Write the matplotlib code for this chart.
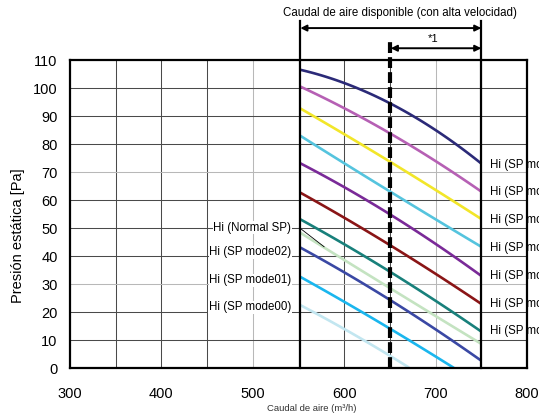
import matplotlib
matplotlib.use("Agg")
import matplotlib.pyplot as plt
import numpy as np

plt.rcParams['font.family'] = ['Liberation Sans', 'DejaVu Sans']

# Data
curves = [
    ("#2b2a78", [552, 600, 650, 700, 750], [106.5, 101.8, 94.5, 85.0, 73.0]),
    ("#b660b4", [552, 600, 650, 700, 750], [100.5, 92.8, 83.8, 73.9, 63.0]),
    ("#f2e629", [552, 600, 650, 700, 750], [92.7, 83.5, 73.7, 63.6, 53.2]),
    ("#55c4de", [552, 600, 650, 700, 750], [82.9, 73.2, 63.0, 53.1, 43.3]),
    ("#7a2a98", [552, 600, 650, 700, 750], [73.1, 64.6, 54.9, 44.3, 32.9]),
    ("#8a1516", [552, 600, 650, 700, 750], [62.6, 53.7, 43.9, 33.6, 22.9]),
    ("#18807b", [552, 600, 650, 700, 750], [53.1, 44.2, 34.4, 24.0, 13.0]),
    ("#c4e3c1", [552, 600, 650, 700, 750], [48.3, 38.6, 28.5, 18.6, 8.6]),
    ("#3a48a4", [552, 600, 650, 700, 750], [43.0, 34.2, 24.3, 13.8, 2.6]),
    ("#1ab6ee", [552, 600, 650, 700, 720], [32.6, 23.5, 14.2, 4.1, 0.0]),
    ("#c2e6f0", [552, 600, 650, 671], [22.5, 13.8, 4.6, 0.0]),
]
right_labels = ["Hi (SP mode09)", "Hi (SP mode08)", "Hi (SP mode07)", "Hi (SP mode06)",
                "Hi (SP mode05)", "Hi (SP mode04)", "Hi (SP mode03)"]
right_label_y = [72.5, 62.8, 52.9, 42.9, 32.9, 22.9, 13.2]
left_labels = ["Hi (Normal SP)", "Hi (SP mode02)", "Hi (SP mode01)", "Hi (SP mode00)"]
left_label_y = [50.1, 41.4, 31.4, 21.7]
xticks = [300, 400, 500, 600, 700, 800]
yticks = list(range(0, 111, 10))
x_min_flow, x_max_flow, x_ref = 552, 750, 650

fig = plt.figure(figsize=(5.39, 4.19), dpi=100)
ax = fig.add_axes([70/539, 1-368/419, (527-70)/539, (368-60)/419])
ax.set_xlim(300, 800)
ax.set_ylim(0, 110)

# grid
light_v = [500, 700]
for gx in range(350, 800, 50):
    c = "#b8b8b8" if gx in light_v else "#4a4a4a"
    ax.axvline(gx, color=c, lw=0.75, zorder=1)
light_h = [30, 70]
for gy in range(10, 110, 10):
    c = "#b8b8b8" if gy in light_h else "#4a4a4a"
    ax.axhline(gy, color=c, lw=0.75, zorder=1)

# curves: smooth rendering through the read points
for color, xs, ys in curves:
    coef = np.polyfit(xs, ys, 2)
    xx = np.linspace(xs[0], xs[-1], 100)
    ax.plot(xx, np.polyval(coef, xx), color=color, lw=1.9, zorder=3,
            solid_capstyle='butt')

ax.set_xticks(xticks)
ax.set_yticks(yticks)
ax.tick_params(axis='both', length=0, labelsize=10.5)
ax.tick_params(axis='x', pad=14)
ax.tick_params(axis='y', pad=9)
for s in ax.spines.values():
    s.set_linewidth(1.6)
    s.set_color("black")
    s.set_zorder(4)

# vertical limit lines
ax.plot([x_min_flow, x_min_flow], [0, 124], color="black", lw=1.6, clip_on=False, zorder=5)
ax.plot([x_max_flow, x_max_flow], [0, 124], color="black", lw=1.6, clip_on=False, zorder=5)
ax.plot([x_ref, x_ref], [0, 117], color="black", lw=3.0, ls=(0, (2.6, 1.0)),
        clip_on=False, zorder=5)

ax.annotate("", xy=(x_min_flow, 121.4), xytext=(x_max_flow, 121.4),
            arrowprops=dict(arrowstyle="<|-|>", color="black", lw=1.4,
                            mutation_scale=9, shrinkA=0, shrinkB=0),
            annotation_clip=False)
ax.annotate("", xy=(x_ref + 1, 114.2), xytext=(x_max_flow, 114.2),
            arrowprops=dict(arrowstyle="<|-|>", color="black", lw=1.4,
                            mutation_scale=9, shrinkA=0, shrinkB=0),
            annotation_clip=False)
ax.text(697, 117.6, "*1", fontsize=8, ha="center", va="center", clip_on=False)
fig.text(400/539, 1-13/419, "Caudal de aire disponible (con alta velocidad)",
         fontsize=8.3, ha="center", va="center")

for lab, ly in zip(right_labels, right_label_y):
    ax.text(760, ly, lab, fontsize=8.3, ha="left", va="center", zorder=2, clip_on=False)
for lab, ly in zip(left_labels, left_label_y):
    ax.text(542, ly, lab, fontsize=8.3, ha="right", va="center", zorder=6,
            bbox=dict(facecolor="white", edgecolor="none", pad=0.3))

# leader line for Normal SP
ax.plot([551, 578], [50.1, 43.3], color="black", lw=0.6, zorder=6)

fig.text(18/539, 1-236/419, "Presión estática [Pa]", fontsize=10.5,
         rotation=90, ha="center", va="center")
fig.text(312/539, 1-408/419, "Caudal de aire (m³/h)", fontsize=6.8,
         ha="center", va="center", color="#333333", stretch="condensed")

fig.savefig("out.png", dpi=100)
